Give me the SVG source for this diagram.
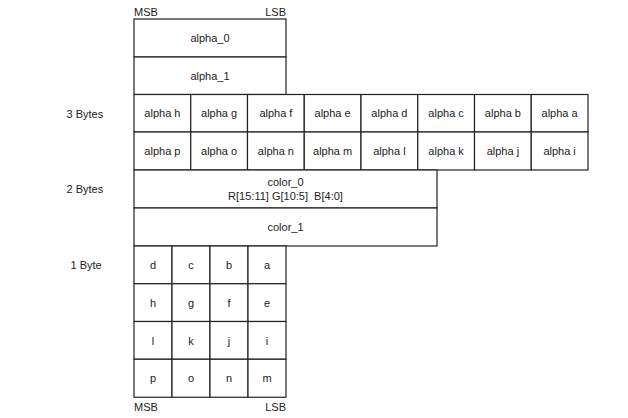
<svg xmlns="http://www.w3.org/2000/svg" width="628" height="418" viewBox="0 0 628 418">
<style>
.c{fill:#fff;stroke:#222;stroke-width:1.2}
text{font-family:"Liberation Sans",Arial,sans-serif;font-size:11px;fill:#222}
.m{text-anchor:middle}
</style>
<rect width="628" height="418" fill="#fff"/>
<g id="labels">
<text x="134" y="15.5">MSB</text>
<text x="286" y="15.5" text-anchor="end">LSB</text>
<text x="66.5" y="117.5">3 Bytes</text>
<text x="66.5" y="193">2 Bytes</text>
<text x="70.5" y="269">1 Byte</text>
<text x="134" y="411">MSB</text>
<text x="286" y="411" text-anchor="end">LSB</text>
</g>
<g id="alpha_0"><rect class="c" x="134" y="19" width="152" height="38"/><text class="m" x="210" y="42">alpha_0</text></g>
<g id="alpha_1"><rect class="c" x="134" y="57" width="152" height="37.5"/><text class="m" x="210" y="79.5">alpha_1</text></g>
<g id="row3a">
<rect class="c" x="134" y="94.5" width="56.75" height="37.5"/><text class="m" x="162.4" y="117">alpha h</text>
<rect class="c" x="190.75" y="94.5" width="56.75" height="37.5"/><text class="m" x="219.1" y="117">alpha g</text>
<rect class="c" x="247.5" y="94.5" width="56.75" height="37.5"/><text class="m" x="275.9" y="117">alpha f</text>
<rect class="c" x="304.25" y="94.5" width="56.75" height="37.5"/><text class="m" x="332.6" y="117">alpha e</text>
<rect class="c" x="361" y="94.5" width="56.75" height="37.5"/><text class="m" x="389.4" y="117">alpha d</text>
<rect class="c" x="417.75" y="94.5" width="56.75" height="37.5"/><text class="m" x="446.1" y="117">alpha c</text>
<rect class="c" x="474.5" y="94.5" width="56.75" height="37.5"/><text class="m" x="502.9" y="117">alpha b</text>
<rect class="c" x="531.25" y="94.5" width="56.75" height="37.5"/><text class="m" x="559.6" y="117">alpha a</text>
</g>
<g id="row3b">
<rect class="c" x="134" y="132" width="56.75" height="38"/><text class="m" x="162.4" y="155">alpha p</text>
<rect class="c" x="190.75" y="132" width="56.75" height="38"/><text class="m" x="219.1" y="155">alpha o</text>
<rect class="c" x="247.5" y="132" width="56.75" height="38"/><text class="m" x="275.9" y="155">alpha n</text>
<rect class="c" x="304.25" y="132" width="56.75" height="38"/><text class="m" x="332.6" y="155">alpha m</text>
<rect class="c" x="361" y="132" width="56.75" height="38"/><text class="m" x="389.4" y="155">alpha l</text>
<rect class="c" x="417.75" y="132" width="56.75" height="38"/><text class="m" x="446.1" y="155">alpha k</text>
<rect class="c" x="474.5" y="132" width="56.75" height="38"/><text class="m" x="502.9" y="155">alpha j</text>
<rect class="c" x="531.25" y="132" width="56.75" height="38"/><text class="m" x="559.6" y="155">alpha i</text>
</g>
<g id="color_0"><rect class="c" x="134" y="170" width="303" height="38"/><text class="m" x="285.5" y="185.5">color_0</text><text class="m" x="285.5" y="199.5" xml:space="preserve">R[15:11] G[10:5]  B[4:0]</text></g>
<g id="color_1"><rect class="c" x="134" y="208" width="303" height="38"/><text class="m" x="285.5" y="231">color_1</text></g>
<g id="byte1">
<rect class="c" x="134" y="246" width="38" height="37.75"/><text class="m" x="153" y="269">d</text>
<rect class="c" x="172" y="246" width="38" height="37.75"/><text class="m" x="191" y="269">c</text>
<rect class="c" x="210" y="246" width="38" height="37.75"/><text class="m" x="229" y="269">b</text>
<rect class="c" x="248" y="246" width="38" height="37.75"/><text class="m" x="267" y="269">a</text>
<rect class="c" x="134" y="283.75" width="38" height="37.75"/><text class="m" x="153" y="306.5">h</text>
<rect class="c" x="172" y="283.75" width="38" height="37.75"/><text class="m" x="191" y="306.5">g</text>
<rect class="c" x="210" y="283.75" width="38" height="37.75"/><text class="m" x="229" y="306.5">f</text>
<rect class="c" x="248" y="283.75" width="38" height="37.75"/><text class="m" x="267" y="306.5">e</text>
<rect class="c" x="134" y="321.5" width="38" height="37.75"/><text class="m" x="153" y="344.5">l</text>
<rect class="c" x="172" y="321.5" width="38" height="37.75"/><text class="m" x="191" y="344.5">k</text>
<rect class="c" x="210" y="321.5" width="38" height="37.75"/><text class="m" x="229" y="344.5">j</text>
<rect class="c" x="248" y="321.5" width="38" height="37.75"/><text class="m" x="267" y="344.5">i</text>
<rect class="c" x="134" y="359.25" width="38" height="38"/><text class="m" x="153" y="382">p</text>
<rect class="c" x="172" y="359.25" width="38" height="38"/><text class="m" x="191" y="382">o</text>
<rect class="c" x="210" y="359.25" width="38" height="38"/><text class="m" x="229" y="382">n</text>
<rect class="c" x="248" y="359.25" width="38" height="38"/><text class="m" x="267" y="382">m</text>
</g>
</svg>
